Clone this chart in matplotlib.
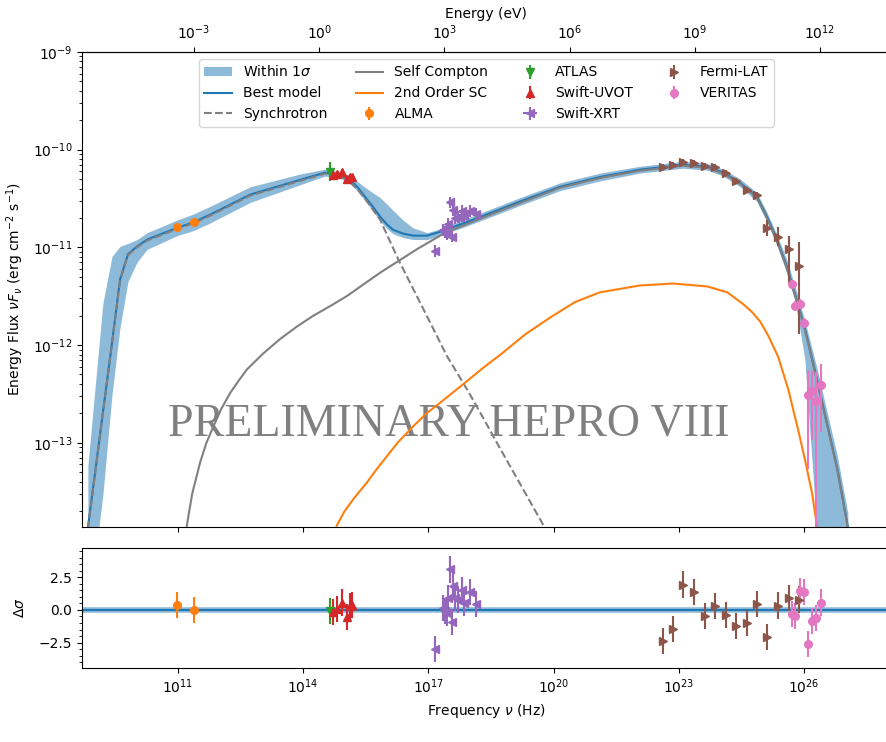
import numpy as np
import matplotlib
matplotlib.use("Agg")
import matplotlib.pyplot as plt
from matplotlib.ticker import NullLocator, AutoMinorLocator

# --- Modellkurven (log10 nu [Hz], log10 nuFnu [erg cm-2 s-1]) ---
model_lognu = [8.84, 9.20, 9.42, 9.61, 9.80, 10.02, 10.26, 10.98, 11.36, 11.77,
               12.73, 13.92, 14.52, 14.64, 14.88, 15.12, 15.31, 15.53, 15.70, 15.84,
               16.01, 16.15, 16.39, 16.63, 16.97, 17.28, 17.93, 18.72, 19.20, 20.15,
               21.11, 22.07, 23.10, 23.68, 24.06, 24.47, 24.87, 25.11, 25.35, 25.59,
               25.80, 26.02, 26.30, 26.55, 26.80, 27.05]
model_logf = [-13.87, -12.69, -11.97, -11.33, -11.07, -10.99, -10.92, -10.80, -10.745, -10.665,
              -10.46, -10.31, -10.235, -10.245, -10.256, -10.31, -10.389, -10.51, -10.603, -10.685,
              -10.767, -10.82, -10.859, -10.88, -10.88, -10.84, -10.74, -10.61, -10.53, -10.38,
              -10.28, -10.205, -10.155, -10.175, -10.235, -10.34, -10.48, -10.685, -10.92, -11.20,
              -11.50, -11.83, -12.33, -12.80, -13.27, -13.86]
band_lo = [-14.80, -13.53, -12.50, -11.82, -11.35, -11.15, -11.02, -10.88, -10.83, -10.75,
           -10.54, -10.36, -10.27, -10.28, -10.29, -10.35, -10.43, -10.55, -10.65, -10.73,
           -10.81, -10.86, -10.90, -10.92, -10.92, -10.88, -10.78, -10.65, -10.57, -10.42,
           -10.32, -10.24, -10.19, -10.21, -10.27, -10.38, -10.53, -10.74, -10.98, -11.27,
           -11.58, -12.15, -13.85, -14.60, -14.80, -15.00]
band_hi = [-13.23, -11.57, -11.09, -10.99, -10.96, -10.92, -10.85, -10.72, -10.66, -10.58,
           -10.38, -10.25, -10.20, -10.21, -10.225, -10.27, -10.33, -10.40, -10.45, -10.49,
           -10.56, -10.62, -10.72, -10.80, -10.85, -10.81, -10.70, -10.57, -10.49, -10.34,
           -10.24, -10.17, -10.12, -10.14, -10.20, -10.30, -10.44, -10.64, -10.87, -11.13,
           -11.42, -11.75, -12.22, -12.68, -13.14, -13.72]

sync_lognu = [8.84, 9.20, 9.42, 9.61, 9.80, 10.02, 10.26, 10.98, 11.36, 11.77, 12.73, 13.92,
              14.52, 14.64, 14.88, 15.12, 15.31, 15.53, 15.84, 16.28, 16.96, 17.44, 17.92,
              18.24, 18.68, 19.79]
sync_logf = [-13.88, -12.70, -11.98, -11.34, -11.08, -11.00, -10.93, -10.81, -10.755, -10.675,
             -10.47, -10.32, -10.245, -10.255, -10.27, -10.33, -10.41, -10.53, -10.716, -11.125,
             -11.70, -12.11, -12.45, -12.69, -13.03, -13.87]

ssc_lognu = [11.21, 11.34, 11.53, 11.68, 11.85, 12.04, 12.25, 12.46, 12.65, 13.03, 13.44,
             13.85, 14.24, 14.65, 15.04, 15.44, 15.84, 16.28, 16.72, 17.36,
             17.93, 18.72, 19.20, 20.15, 21.11, 22.07, 23.10, 23.68, 24.06, 24.47, 24.87,
             25.11, 25.35, 25.59, 25.80, 26.02, 26.30, 26.55, 26.80, 27.05]
ssc_logf = [-13.85, -13.52, -13.20, -13.00, -12.83, -12.65, -12.49, -12.36, -12.25, -12.09, -11.94,
            -11.81, -11.70, -11.60, -11.50, -11.38, -11.26, -11.14, -11.02, -10.86,
            -10.76, -10.625, -10.545, -10.39, -10.29, -10.215, -10.165, -10.185, -10.245, -10.35,
            -10.49, -10.70, -10.935, -11.215, -11.515, -11.845, -12.345, -12.815, -13.285, -13.875]

ssc2_lognu = [14.80, 14.99, 15.23, 15.52, 15.76, 16.00, 16.28, 16.64, 16.95, 17.28, 17.63,
              17.92, 18.35, 18.72, 19.32, 19.91, 20.51, 21.11, 22.07, 22.86, 23.68, 24.16,
              24.54, 24.75, 24.95, 25.15, 25.38, 25.62, 25.86, 26.02, 26.19, 26.31]
ssc2_logf = [-13.85, -13.70, -13.56, -13.41, -13.27, -13.14, -12.99, -12.83, -12.70, -12.59, -12.47,
             -12.37, -12.22, -12.10, -11.89, -11.72, -11.56, -11.46, -11.39, -11.37, -11.40, -11.46,
             -11.58, -11.66, -11.76, -11.91, -12.12, -12.45, -12.87, -13.17, -13.51, -13.85]

# --- Messdaten ---
alma_lognu = [10.98, 11.38]
alma_logf = [-10.787, -10.736]
alma_err = [0.03, 0.03]
alma_res = [0.375, 0.0]

atlas_lognu = [14.64]
atlas_logf = [-10.225]
atlas_err = [0.10]
atlas_res = [-0.1]

uvot_lognu = [14.72, 14.81, 14.92, 15.06, 15.12, 15.16]
uvot_logf = [-10.26, -10.245, -10.225, -10.30, -10.275, -10.275]
uvot_err = [0.03, 0.03, 0.03, 0.03, 0.03, 0.03]
uvot_res = [-0.15, 0.1, 0.57, -0.55, 0.3, 0.4]

xrt_lognu = [17.16, 17.34, 17.40, 17.45, 17.48, 17.52, 17.56, 17.60, 17.64, 17.72,
             17.80, 17.86, 17.99, 18.14]
xrt_logf = [-11.04, -10.82, -10.84, -10.86, -10.76, -10.54, -10.89, -10.62, -10.70, -10.69,
            -10.63, -10.68, -10.63, -10.66]
xrt_err = [0.06] * 14
xrt_res = [-3.0, 0.15, -0.1, -0.2, 0.9, 3.1, -0.9, 1.85, 0.9, 0.8, 1.55, 0.55, 1.4, 0.45]

fermi_lognu = [22.63, 22.87, 23.11, 23.37, 23.63, 23.87, 24.13, 24.37, 24.63, 24.87,
               25.11, 25.37, 25.63, 25.89]
fermi_logf = [-10.18, -10.155, -10.13, -10.14, -10.165, -10.18, -10.24, -10.32, -10.41, -10.46,
              -10.80, -10.89, -11.02, -11.19]
fermi_err_lo = [0.03, 0.03, 0.03, 0.03, 0.03, 0.03, 0.03, 0.03, 0.03, 0.03, 0.08, 0.10, 0.34, 0.70]
fermi_err_hi = [0.03, 0.03, 0.03, 0.03, 0.03, 0.03, 0.03, 0.03, 0.03, 0.03, 0.08, 0.10, 0.14, 0.24]
fermi_res = [-2.4, -1.47, 1.95, 1.38, -0.45, 0.3, -0.42, -1.2, -1.02, 0.48, -2.05, 0.34, 0.92, 0.8]

veritas_lognu = [25.71, 25.79, 25.91, 26.01, 26.09, 26.19, 26.29, 26.40]
veritas_logf = [-11.38, -11.595, -11.575, -11.77, -12.51, -12.47, -12.57, -12.41]
veritas_err_lo = [0.05, 0.05, 0.05, 0.05, 0.76, 0.50, 2.00, 0.48]
veritas_err_hi = [0.05, 0.05, 0.05, 0.05, 0.26, 0.20, 0.29, 0.22]
veritas_res = [-0.34, -0.46, 1.43, 1.37, -2.6, -0.87, -0.64, 0.57]

nu_ticks = [1e11, 1e14, 1e17, 1e20, 1e23, 1e26]
e_ticks = [1e-3, 1e0, 1e3, 1e6, 1e9, 1e12]
res_ticks = [-2.5, 0.0, 2.5]

H_EV = 4.135667e-15  # Planck-Konstante in eV s


def p10(a):
    return np.power(10.0, np.asarray(a, dtype=float))


def log_err(logf, lo, hi):
    f = p10(logf)
    return [f - p10(np.asarray(logf) - np.asarray(lo)), p10(np.asarray(logf) + np.asarray(hi)) - f]


# --  Hauptprogramm  --
fig = plt.figure(figsize=(8.86, 7.42), dpi=100)
ax = fig.add_axes([0.0926, 0.290, 0.9124, 0.640])
axr = fig.add_axes([0.0926, 0.0997, 0.9124, 0.1618], sharex=ax)

# Modell
band = ax.fill_between(p10(model_lognu), p10(band_lo), p10(band_hi), color="C0", alpha=0.5,
                       linewidth=0, label=r"Within 1$\sigma$")
best, = ax.plot(p10(model_lognu), p10(model_logf), color="C0", lw=1.5, label="Best model")
sync, = ax.plot(p10(sync_lognu), p10(sync_logf), color="gray", ls="--", lw=1.5, label="Synchrotron")
ssc, = ax.plot(p10(ssc_lognu), p10(ssc_logf), color="gray", lw=1.5, label="Self Compton")
ssc2, = ax.plot(p10(ssc2_lognu), p10(ssc2_logf), color="C1", lw=1.5, label="2nd Order SC")

# Daten
ms = 5.5
h_alma = ax.errorbar(p10(alma_lognu), p10(alma_logf), yerr=log_err(alma_logf, alma_err, alma_err),
                     fmt="o", color="C1", ms=ms, label="ALMA")
h_atlas = ax.errorbar(p10(atlas_lognu), p10(atlas_logf), yerr=log_err(atlas_logf, atlas_err, atlas_err),
                      fmt="v", color="C2", ms=ms, label="ATLAS")
h_uvot = ax.errorbar(p10(uvot_lognu), p10(uvot_logf), yerr=log_err(uvot_logf, uvot_err, uvot_err),
                     fmt="^", color="C3", ms=ms, label="Swift-UVOT")
h_xrt = ax.errorbar(p10(xrt_lognu), p10(xrt_logf), yerr=log_err(xrt_logf, xrt_err, xrt_err),
                    xerr=log_err(xrt_lognu, xrt_err, xrt_err),
                    fmt="<", color="C4", ms=ms, label="Swift-XRT")
h_fermi = ax.errorbar(p10(fermi_lognu), p10(fermi_logf), yerr=log_err(fermi_logf, fermi_err_lo, fermi_err_hi),
                      fmt=">", color="C5", ms=ms, label="Fermi-LAT")
h_veritas = ax.errorbar(p10(veritas_lognu), p10(veritas_logf),
                        yerr=log_err(veritas_logf, veritas_err_lo, veritas_err_hi),
                        fmt="o", color="C6", ms=ms, label="VERITAS")

ax.text(0.454, 0.217, "PRELIMINARY HEPRO VIII", transform=ax.transAxes, ha="center", va="center",
        fontsize=33, family="Liberation Serif", color="gray", zorder=0)

ax.set_xscale("log")
ax.set_yscale("log")
ax.set_xlim(p10(8.70), p10(28.07))
ax.set_ylim(p10(-13.86), 1e-9)
ax.set_xticks(nu_ticks)
ax.xaxis.set_minor_locator(NullLocator())
ax.tick_params(labelbottom=False)
ax.set_ylabel(r"Energy Flux $\nu F_\nu$ (erg cm$^{-2}$ s$^{-1}$)")
ax.yaxis.set_label_coords(-0.069, 0.5)

# obere Achse: Energie
sec = ax.secondary_xaxis("top", functions=(lambda x: x * H_EV, lambda e: e / H_EV))
sec.set_xticks(e_ticks)
sec.xaxis.set_minor_locator(NullLocator())
sec.set_xlabel("Energy (eV)")

handles = [band, best, sync, ssc, ssc2, h_alma, h_atlas, h_uvot, h_xrt, h_fermi, h_veritas]
ax.legend(handles=handles, loc="upper center", ncol=4)

# Residuen
axr.axhline(0, color="C0", lw=4, alpha=0.5)
axr.axhline(0, color="C0", lw=1.5)
axr.errorbar(p10(alma_lognu), alma_res, yerr=1, fmt="o", color="C1", ms=ms)
axr.errorbar(p10(atlas_lognu), atlas_res, yerr=1, fmt="v", color="C2", ms=ms)
axr.errorbar(p10(uvot_lognu), uvot_res, yerr=1, fmt="^", color="C3", ms=ms)
axr.errorbar(p10(xrt_lognu), xrt_res, yerr=1, fmt="<", color="C4", ms=ms)
axr.errorbar(p10(fermi_lognu), fermi_res, yerr=1, fmt=">", color="C5", ms=ms)
axr.errorbar(p10(veritas_lognu), veritas_res, yerr=1, fmt="o", color="C6", ms=ms)
axr.set_ylim(-4.45, 4.75)
axr.set_yticks(res_ticks)
axr.yaxis.set_minor_locator(AutoMinorLocator())
axr.set_xticks(nu_ticks)
axr.xaxis.set_minor_locator(NullLocator())
axr.set_ylabel(r"$\Delta\sigma$")
axr.yaxis.set_label_coords(-0.068, 0.5)
axr.set_xlabel(r"Frequency $\nu$ (Hz)")

fig.savefig("out.png", dpi=100)
